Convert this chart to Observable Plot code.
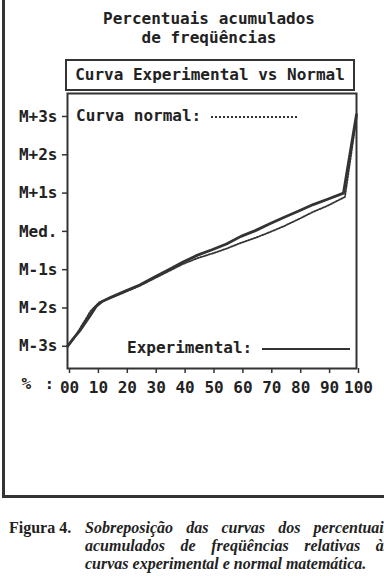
<!DOCTYPE html>
<html>
<head>
<meta charset="utf-8">
<script src="https://cdn.jsdelivr.net/npm/d3@7"></script>
<script src="https://cdn.jsdelivr.net/npm/@observablehq/plot@0.6"></script>
<style>
  html, body { margin: 0; padding: 0; background: #fff; }
  body { width: 384px; height: 580px; overflow: hidden; position: relative; font-family: "DejaVu Sans Mono", monospace; color: #222; }
  .abs { position: absolute; }
  #frameBox { left: 2px; top: -10px; width: 420px; height: 505px; border-left: 3px solid #333; border-bottom: 3px solid #333; }
  #title { left: 0; width: 418px; top: 9px; text-align: center; font-size: 16px; line-height: 19px; font-weight: bold; }
  #subbox { left: 65px; top: 59px; width: 286px; height: 28px; border: 2px solid #333; font-size: 16px; line-height: 28px; text-align: center; font-weight: bold; }
  #chart { left: 0; top: 92px; }
  .leg { font-size: 16px; line-height: 18px; white-space: pre; font-weight: bold; }
  .sample { display: inline-block; vertical-align: middle; }
  #cap { left: 0; top: 519px; width: 420px; font-family: "Liberation Serif", "Times New Roman", serif; font-size: 16px; line-height: 18px; font-weight: bold; color: #222; }
  #capfig { position: absolute; left: 9px; top: 0; }
  #captext { position: absolute; left: 85px; top: 0; width: 305px; font-style: italic; }
  #captext div { text-align: justify; text-align-last: justify; }
  #captext div.last { text-align-last: left; }
</style>
</head>
<body>
<div id="frameBox" class="abs"></div>
<div id="title" class="abs">Percentuais acumulados<br>de freqüências</div>
<div id="subbox" class="abs">Curva Experimental vs Normal</div>
<div id="chart" class="abs"></div>
<div class="abs leg" style="left:76px; top:107px;">Curva normal: <span class="sample" style="width:86px; border-top:2px dotted #333;"></span></div>
<div class="abs leg" style="left:127px; top:339px;">Experimental: <span class="sample" style="width:88px; border-top:2px solid #333;"></span></div>
<div id="cap" class="abs">
  <div id="capfig">Figura 4.</div>
  <div id="captext">
    <div>Sobreposição das curvas dos percentuais</div>
    <div>acumulados de freqüências relativas às</div>
    <div class="last">curvas experimental e normal matemática.</div>
  </div>
</div>
<script>
// Percentile positions (x, %) and curve values (in standard deviations from the mean)
const expPct = [0, 2, 4.5, 8, 10, 12, 15, 20, 25, 30, 35, 40, 45, 50, 55, 60, 65, 70, 75, 80, 85, 90, 95.5, 100];
const expVal = [-3, -2.8, -2.57, -2.18, -1.95, -1.83, -1.72, -1.56, -1.40, -1.20, -1.00, -0.80, -0.62, -0.48, -0.33, -0.13, 0.02, 0.20, 0.37, 0.53, 0.70, 0.84, 1.00, 3.05];

const normPct = [0, 2, 5, 8, 11, 15, 20, 25, 30, 35, 40, 45, 50, 55, 60, 65, 70, 75, 80, 85, 90, 96, 100];
const normVal = [-3, -2.82, -2.45, -2.08, -1.85, -1.74, -1.58, -1.42, -1.23, -1.04, -0.85, -0.70, -0.58, -0.45, -0.30, -0.17, -0.02, 0.14, 0.32, 0.51, 0.67, 0.90, 2.97];

const yTicks = [-3, -2, -1, 0, 1, 2, 3];
const yLabels = ["M-3s", "M-2s", "M-1s", "Med.", "M+1s", "M+2s", "M+3s"];
const xTicks = [0, 10, 20, 30, 40, 50, 60, 70, 80, 90, 100];
const xLabels = ["00", "10", "20", "30", "40", "50", "60", "70", "80", "90", "100"];

const experimental = expPct.map((p, i) => ({pct: p, v: expVal[i]}));
const normal = normPct.map((p, i) => ({pct: p, v: normVal[i]}));

const ink = "#333";
const chart = Plot.plot({
  width: 384,
  height: 406,
  marginTop: 1,
  marginBottom: 130,
  marginLeft: 67,
  marginRight: 28,
  style: {fontFamily: "DejaVu Sans Mono, monospace", fontSize: "16px", fontWeight: "bold", color: "#222", background: "transparent", overflow: "visible"},
  x: {domain: [0, 100]},
  y: {domain: [-3.58, 3.6]},
  marks: [
    Plot.frame({stroke: ink, strokeWidth: 2}),
    Plot.axisY(yTicks, {tickSize: 5, tickPadding: 5, tickFormat: d => yLabels[yTicks.indexOf(d)], stroke: ink, strokeWidth: 1.5, fill: "#222", fontSize: 16, fontWeight: "bold", label: null}),
    Plot.axisX(xTicks, {tickSize: 5, tickPadding: 8, tickFormat: d => xLabels[xTicks.indexOf(d)], stroke: ink, strokeWidth: 1.5, fill: "#222", fontSize: 16, fontWeight: "bold", dx: 2, label: null}),
    Plot.text(["%"], {frameAnchor: "bottom-left", dx: -46, dy: 20, fontSize: 16, fontWeight: "bold", fill: "#222"}),
    Plot.text([":"], {frameAnchor: "bottom-left", dx: -23, dy: 20, fontSize: 16, fontWeight: "bold", fill: "#222"}),
    Plot.line(normal, {x: "pct", y: "v", stroke: "#333", strokeWidth: 1.8, strokeDasharray: "1.5,1.5"}),
    Plot.line(experimental, {x: "pct", y: "v", stroke: ink, strokeWidth: 2.8})
  ]
});
document.getElementById("chart").appendChild(chart);
</script>
</body>
</html>
